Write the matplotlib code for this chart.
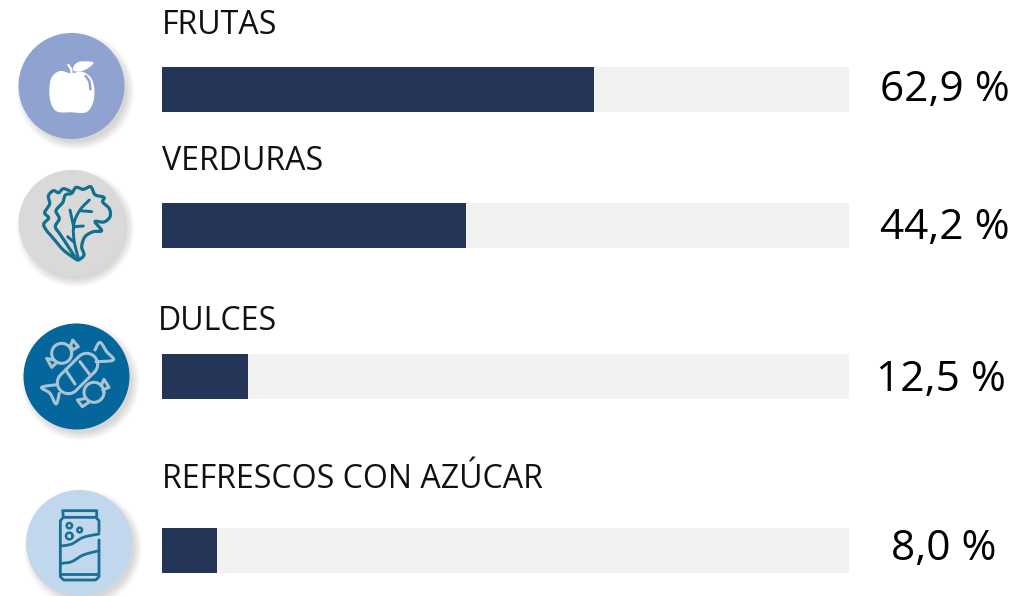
import numpy as np
import matplotlib
matplotlib.use("Agg")
import matplotlib.pyplot as plt
from matplotlib.patches import Circle, Polygon

categories = ["FRUTAS", "VERDURAS", "DULCES", "REFRESCOS CON AZÚCAR"]
values = [62.9, 44.2, 12.5, 8.0]
maximum = [100, 100, 100, 100]

W, H = 1035, 596
BAR = "#253558"
TRACK = "#f2f2f2"
plt.rcParams["font.family"] = ["Open Sans", "DejaVu Sans"]

fig = plt.figure(figsize=(W / 100, H / 100), dpi=100, facecolor="white")

# overlay in pixel coordinates for the pictograms and text
ov = fig.add_axes([0, 0, 1, 1])
ov.set_xlim(0, W); ov.set_ylim(H, 0); ov.axis("off")

# data axes: x 0-100 runs across the bar track
ax = fig.add_axes([162 / W, 0, 687.5 / W, 1])
ax.patch.set_alpha(0)
ax.set_xlim(0, 100); ax.set_ylim(H, 0); ax.axis("off")
bar_y = [89.5, 225.5, 376.5, 550.5]
ax.barh(bar_y, maximum, height=45, color=TRACK, linewidth=0)
ax.barh(bar_y, values, height=45, color=BAR, linewidth=0)

label_pos = [(162, 25), (162, 161), (158, 321), (162, 479)]
for name, (x, y) in zip(categories, label_pos):
    ov.text(x, y, name, fontsize=23.1, color="#111111", va="center", ha="left")
value_pos = [(945, 90), (944.5, 228), (941, 380), (944, 549)]
for v, (x, y) in zip(values, value_pos):
    ov.text(x, y, f"{v:.1f}".replace(".", ",") + " %", fontsize=30.5, color="black",
            va="center", ha="center")

# circles with a soft shadow
circles = [(71.5, 86, "#8fa2d0"), (71.5, 223, "#d9d9d9"), (76.5, 376.5, "#04669b"), (79, 543, "#c0d7ed")]
for cx, cy, col in circles:
    for k in range(10):
        ov.add_patch(Circle((cx + 4, cy + 5), 53 + 6 - k * 0.9, color="#555555", alpha=0.022, lw=0, zorder=1))
    ov.add_patch(Circle((cx, cy), 53, color=col, lw=0, zorder=2))


def spline(pts, closed=False, n=14):
    p = np.asarray(pts, float)
    if closed:
        p = np.vstack([p[-1], p, p[0], p[1]])
    else:
        p = np.vstack([p[0], p, p[-1]])
    out = []
    for i in range(1, len(p) - 2):
        for t in np.linspace(0, 1, n, endpoint=False):
            a, b, c, d = p[i - 1], p[i], p[i + 1], p[i + 2]
            out.append(0.5 * (2 * b + (c - a) * t + (2 * a - 5 * b + 4 * c - d) * t ** 2
                              + (3 * b - a - 3 * c + d) * t ** 3))
    out.append(p[-2])
    return np.array(out)


def mapper(oy):
    return lambda pts: np.asarray(pts, float) / 3 + np.array([0, oy])


def line(xy, col, lw=1.8, z=3):
    ov.plot(xy[:, 0], xy[:, 1], color=col, lw=lw, solid_capstyle="round", solid_joinstyle="round", zorder=z)


# apple
m = mapper(20)
body = [(213, 160), (180, 153), (155, 172), (148, 210), (153, 250), (172, 275), (215, 277),
        (258, 277), (279, 248), (283, 205), (272, 172), (245, 155)]
ov.add_patch(Polygon(m(spline(body, True)), color="white", lw=0, zorder=3))
line(m(spline([(257, 168), (268, 185), (271, 208)])), "#8fa2d0", 1.8, 4)
line(m([(205, 135), (212, 145), (215, 158)]), "white", 1.6)
ov.add_patch(Polygon(m(spline([(218, 148), (235, 126), (280, 127), (262, 146), (235, 155)], True)),
                     color="white", lw=0, zorder=3))

# lettuce
T = "#12708f"
back = [(225, 716), (190, 690), (160, 655), (140, 632), (131, 612), (146, 594), (134, 578), (149, 552),
        (145, 528), (160, 512), (176, 518), (190, 506), (212, 514)]
front = [(228, 716), (205, 680), (182, 645), (166, 620), (178, 596), (168, 572), (188, 548), (196, 525),
         (215, 520), (228, 502), (250, 508), (272, 500), (285, 524), (312, 532), (308, 546), (328, 566),
         (330, 590), (312, 606), (285, 605), (305, 632), (280, 635), (255, 650), (245, 680), (252, 705),
         (235, 720), (228, 716)]
line(m(spline(back)), T, 2.3)
line(m(spline(front)), T, 2.3)
line(m(spline([(235, 715), (222, 660), (222, 610), (240, 570), (268, 540)])), T, 2.1)
for seg in ([(222, 625), (210, 570)], [(222, 620), (250, 618)], [(240, 572), (275, 575)], [(220, 665), (203, 650)]):
    line(m(seg), T, 2.1)

# candies
m = mapper(310)
C = "#a8c4d4"
CW = 2.2
a0, a1 = np.array([205.0, 218.0]), np.array([260.0, 163.0])
d = (a1 - a0) / np.linalg.norm(a1 - a0)
ang = np.arctan2(d[1], d[0])
r = 33
th1 = np.linspace(ang + np.pi / 2, ang - np.pi / 2, 20)
th2 = np.linspace(ang - np.pi / 2, ang - 3 * np.pi / 2, 20)
caps = np.vstack([a1 + r * np.c_[np.cos(th1), np.sin(th1)], a0 + r * np.c_[np.cos(th2), np.sin(th2)]])
line(m(np.vstack([caps, caps[0]])), C, CW)
line(m([(197, 180), (225, 222)]), C, CW)
line(m([(240, 155), (270, 195)]), C, CW)
line(m(spline([(172, 224), (125, 232), (150, 250), (168, 282), (178, 250)])), C, CW)
line(m(spline([(288, 155), (340, 150), (320, 125), (300, 97), (285, 120)])), C, CW)
t = np.linspace(0, 2 * np.pi, 50)
for cx, cy in ((185, 130), (282, 247)):
    line(m(np.c_[cx + 30 * np.cos(t), cy + 30 * np.sin(t)]), C, CW)
line(m([(212, 107), (218, 90), (235, 110), (218, 120), (212, 107)]), C, CW)
line(m([(160, 150), (140, 145), (155, 172), (168, 160)]), C, CW)
line(m([(303, 228), (312, 208), (327, 232), (308, 240)]), C, CW)
line(m([(258, 265), (232, 270), (247, 290), (265, 278)]), C, CW)

# can
K = "#1a6f93"
KW = 2.0
line(m([(297, 690), (297, 800), (287, 810), (191, 810), (181, 800), (181, 632), (190, 622), (288, 622),
        (297, 632), (297, 665)]), K, KW)
line(m([(190, 622), (188, 602), (290, 602), (290, 622)]), K, KW)
line(m([(183, 793), (295, 793)]), K, KW)
line(m(spline([(183, 708), (215, 702), (250, 682), (297, 672)])), K, KW)
line(m(spline([(183, 760), (215, 755), (250, 735), (297, 722)])), K, KW)
for cx, cy, rr in ((208, 647, 8), (239, 660, 7), (208, 678, 10)):
    line(m(np.c_[cx + rr * np.cos(t), cy + rr * np.sin(t)]), K, 1.8)

fig.savefig("out.png", dpi=100)
